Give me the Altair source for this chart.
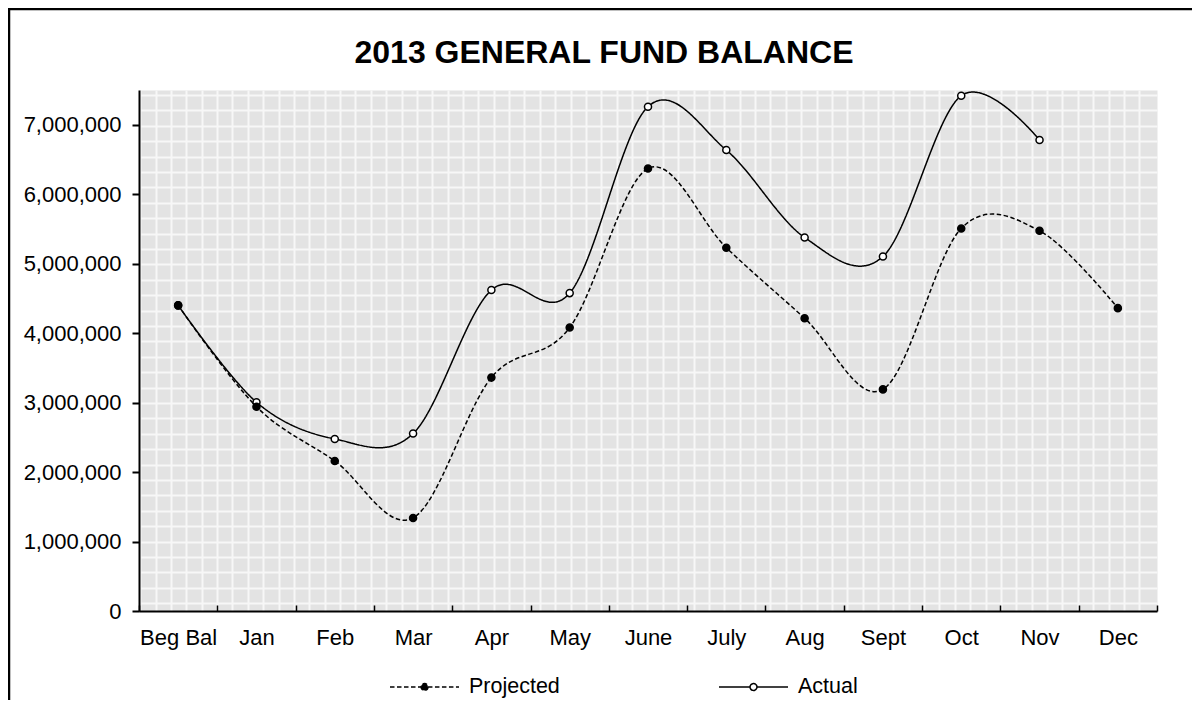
import altair as alt
import numpy as np
import pandas as pd

months = ["Beg Bal", "Jan", "Feb", "Mar", "Apr", "May", "June",
          "July", "Aug", "Sept", "Oct", "Nov", "Dec"]
projected = [4400000, 2940000, 2160000, 1340000, 3360000, 4080000, 6370000,
             5230000, 4215000, 3190000, 5507000, 5473000, 4360000]
actual = [4400000, 3006000, 2477000, 2554000, 4620000, 4576000, 7260000,
          6635000, 5377000, 5103000, 7418000, 6780000, None]
series_names = ["Projected", "Actual"]
y_ticks = [0, 1000000, 2000000, 3000000, 4000000, 5000000, 6000000, 7000000]

rows = []
for m, v in zip(months, actual):
    if v is not None:
        rows.append({"month": m, "value": v, "series": "Actual"})
for m, v in zip(months, projected):
    if v is not None:
        rows.append({"month": m, "value": v, "series": "Projected"})
df = pd.DataFrame(rows)

W, H = 1018, 521
FONT = "Liberation Sans"

x_axis = alt.Axis(title=None, orient="bottom", tickBand="extent", labelFontSize=22,
                  labelFont=FONT, labelColor="black", labelAngle=0, domain=False,
                  tickColor="black", tickWidth=1.5, tickSize=6, labelPadding=33,
                  labelBaseline="alphabetic", grid=False, offset=-6)
y_axis = alt.Axis(title=None, orient="left", values=y_ticks, format=",.0f", labelFontSize=22,
                  labelFont=FONT, labelColor="black", domainColor="black", domainWidth=2,
                  tickColor="black", tickWidth=2, tickSize=7, labelPadding=11, grid=False)

x_enc = alt.X("month:N", sort=months,
              scale=alt.Scale(type="band", domain=months, paddingInner=0, paddingOuter=0),
              axis=x_axis)
y_enc = alt.Y("value:Q", scale=alt.Scale(domain=[0, 7500000], nice=False, zero=True), axis=y_axis)

sym_path = ("M-1,0L-0.1,0M0.1,0L1,0M0.1,0A0.1,0.1,0,1,1,-0.1,0"
            "A0.1,0.1,0,1,1,0.1,0Z")


def make_legend():
    return alt.Legend(
        title=None, orient="none", legendX=250, legendY=561.5, direction="horizontal",
        symbolType=sym_path, symbolSize=4761, symbolStrokeColor="black",
        symbolStrokeWidth=1.5, symbolOpacity=1, labelFont=FONT, labelFontSize=21.5,
        labelColor="black", labelOffset=9, columnPadding=156, padding=0,
    )


lines = alt.Chart(df).mark_line(interpolate="cardinal", color="black", strokeWidth=1.5).encode(
    x=x_enc, y=y_enc,
    strokeDash=alt.StrokeDash(
        "series:N",
        scale=alt.Scale(domain=series_names, range=[[4.5, 2.5], [1, 0]]),
        legend=make_legend(),
    ),
    detail="series:N",
)

points = alt.Chart(df).mark_point(shape="circle", filled=True, stroke="black",
                                  strokeWidth=1.5, size=50, opacity=1).encode(
    x=x_enc, y=y_enc,
    fill=alt.Fill("series:N", scale=alt.Scale(domain=series_names, range=["black", "white"]),
                  legend=make_legend()),
)

border = alt.Chart(pd.DataFrame({"a": [0]})).mark_rect(
    fillOpacity=0, stroke="black", strokeWidth=2.5, clip=False).encode(
    x=alt.value(-130), x2=alt.value(W + 60), y=alt.value(-81), y2=alt.value(H + 120))

main = alt.layer(lines, points, border)

gx_n = W / 15.37
gy_n = H / 15.4
gx_vals = [float(v) for v in np.arange(0, 66) + 0.08]
gy_vals = [float(v) for v in np.arange(0, 34) + 5 / 15.4]

bg = alt.Chart(pd.DataFrame({"gx": [0.0], "gy": [0.0]})).mark_point(opacity=0).encode(
    x=alt.X("gx:Q", scale=alt.Scale(domain=[0, gx_n], nice=False, zero=False),
            axis=alt.Axis(orient="bottom", values=gx_vals, grid=True, gridColor="#f7f7f7",
                          gridWidth=2, labels=False, ticks=False, domain=True,
                          domainColor="black", domainWidth=2, title=None)),
    y=alt.Y("gy:Q", scale=alt.Scale(domain=[0, gy_n], nice=False, zero=False, reverse=True),
            axis=alt.Axis(orient="right", values=gy_vals, grid=True, gridColor="#f7f7f7",
                          gridWidth=2, labels=False, ticks=False, domain=False, title=None)),
)

chart = alt.layer(bg, main).resolve_scale(x="independent", y="independent").properties(
    width=W, height=H,
    title=alt.TitleParams("2013 GENERAL FUND BALANCE", font=FONT, fontSize=32,
                          fontWeight="bold", color="black", anchor="middle", frame="group",
                          dx=-44, dy=115, offset=28, baseline="alphabetic"),
    autosize=alt.AutoSizeParams(type="none"),
    padding={"left": 131, "top": 82, "right": 35, "bottom": 89},
    background="white",
).configure_view(fill="#e3e3e3", stroke="transparent")

chart.save("out.html", embed_options={"renderer": "svg", "actions": False})
